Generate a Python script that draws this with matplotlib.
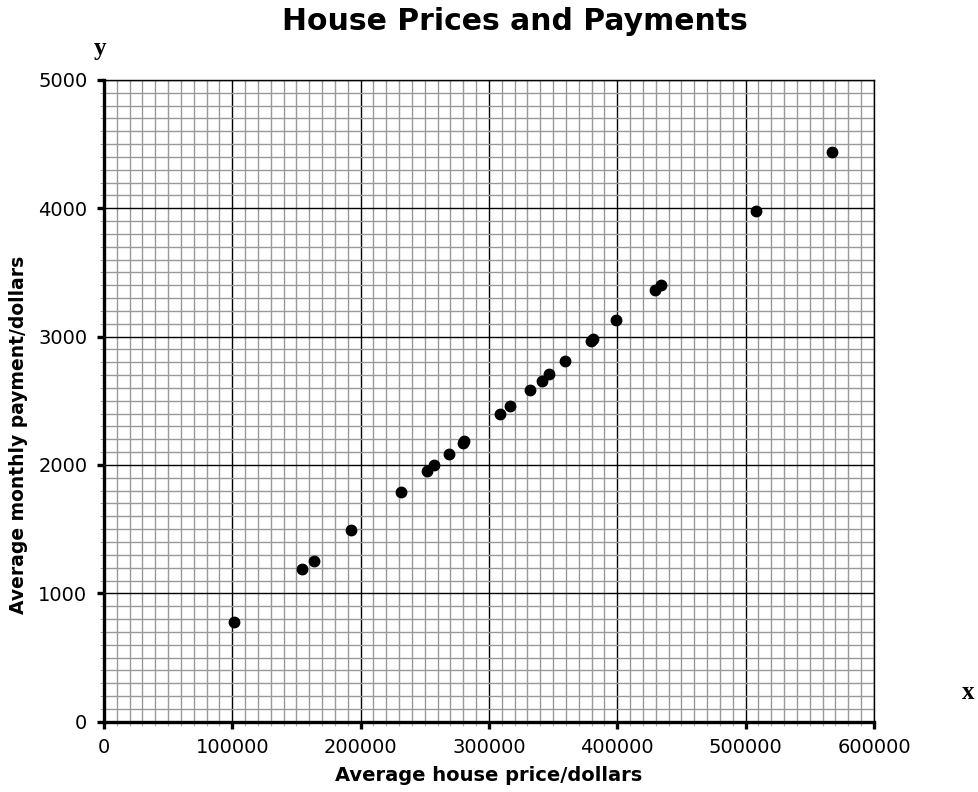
import matplotlib.pyplot as plt
from matplotlib.ticker import MultipleLocator

# average house price (dollars) and average monthly payment (dollars)
price = [101500, 154300, 163900, 192300, 231200, 251500, 257400, 268500,
         280000, 280800, 308600, 316400, 332000, 341100, 346800, 359300,
         379300, 381400, 399100, 429200, 434400, 508000, 567200]
payment = [779, 1191, 1255, 1492, 1793, 1956, 1998, 2087,
           2175, 2185, 2401, 2461, 2585, 2658, 2710, 2809,
           2970, 2983, 3126, 3363, 3401, 3978, 4440]

fig = plt.figure(figsize=(9.79, 7.92), dpi=100)
ax = fig.add_axes([0.1062, 0.0888, 0.7865, 0.8102])

ax.set_xlim(0, 600000)
ax.set_ylim(0, 5000)
ax.xaxis.set_major_locator(MultipleLocator(100000))
ax.xaxis.set_minor_locator(MultipleLocator(10000))
ax.yaxis.set_major_locator(MultipleLocator(1000))
ax.yaxis.set_minor_locator(MultipleLocator(100))

ax.grid(which='minor', color='#999999', linewidth=1.0)
ax.grid(which='major', color='black', linewidth=1.0)
ax.set_axisbelow(True)

ax.plot(price, payment, 'o', color='black', markersize=7.5, zorder=3)

for s in ['left', 'bottom']:
    ax.spines[s].set_linewidth(2.4)
for s in ['top', 'right']:
    ax.spines[s].set_linewidth(1.0)

ax.tick_params(which='major', direction='out', length=5, width=2.4, labelsize=14, pad=7)
ax.tick_params(which='minor', direction='out', length=3, width=0.8, color='#aaaaaa')

ax.set_xlabel('Average house price/dollars', fontsize=14, fontweight='bold', labelpad=6)
ax.set_ylabel('Average monthly payment/dollars', fontsize=13.5, fontweight='bold')
ax.yaxis.set_label_coords(-0.099, 0.447)
ax.set_title('House Prices and Payments', fontsize=21.5, fontweight='bold', pad=36, x=0.534)

fig.text(0.1021, 0.931, 'y', fontsize=18, fontweight='bold', family='Liberation Serif', ha='center')
fig.text(0.989, 0.118, 'x', fontsize=18, fontweight='bold', family='Liberation Serif', ha='center')

fig.savefig('out.png', dpi=100)
